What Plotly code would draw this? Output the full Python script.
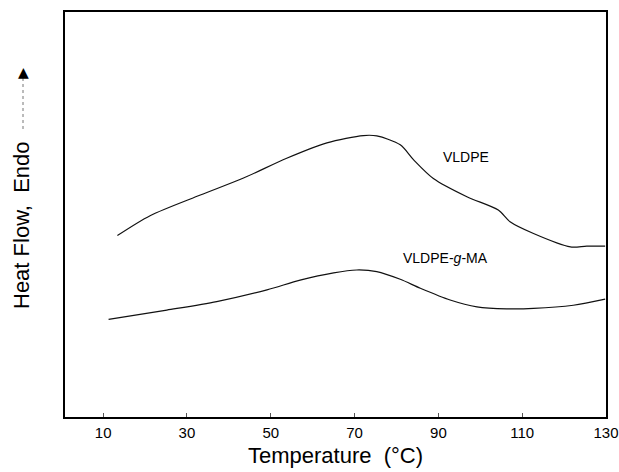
import plotly.graph_objects as go

# Temperature (°C) and heat-flow (arbitrary units)
vldpe_t = [13.4, 21.2, 33.2, 43.5, 53.8, 63.4, 72.1, 75.3, 80.9, 84.1, 88.8, 96.8, 104.3, 107.1, 112.7, 121.5, 125.4, 129.8]
vldpe_hf = [44.8, 49.7, 54.8, 59.0, 63.9, 67.7, 69.5, 69.4, 67.2, 63.5, 58.9, 54.4, 51.1, 48.2, 45.3, 42.0, 42.2, 42.2]

gma_t = [11.3, 25.2, 37.1, 49.1, 57.0, 65.0, 70.5, 75.3, 80.9, 85.7, 92.8, 99.2, 106.3, 112.7, 122.2, 129.8]
gma_hf = [24.1, 26.4, 28.5, 31.4, 33.8, 35.6, 36.3, 35.9, 34.0, 31.8, 28.9, 27.2, 26.7, 26.8, 27.6, 29.1]

x_ticks = [10, 30, 50, 70, 90, 110, 130]

FONT = "Liberation Sans, Arial, sans-serif"

fig = go.Figure()
fig.add_trace(go.Scatter(x=vldpe_t, y=vldpe_hf, mode="lines",
                         line=dict(color="#111111", width=1.2, shape="spline", smoothing=0.8),
                         showlegend=False, hoverinfo="skip"))
fig.add_trace(go.Scatter(x=gma_t, y=gma_hf, mode="lines",
                         line=dict(color="#111111", width=1.2, shape="spline", smoothing=0.8),
                         showlegend=False, hoverinfo="skip"))

fig.update_layout(
    width=619, height=472,
    margin=dict(l=65, r=13, t=12, b=55),
    paper_bgcolor="white", plot_bgcolor="white",
    font=dict(family=FONT, color="black"),
    xaxis=dict(range=[0.9, 130], tickvals=x_ticks, ticktext=[str(v) for v in x_ticks],
               ticks="inside", ticklen=4, tickcolor="#555555",
               showline=True, linecolor="black", linewidth=1.5, mirror=True,
               showgrid=False, zeroline=False, automargin=False,
               tickfont=dict(size=15, family=FONT, color="black"),
               ticklabelstandoff=1,
               title=dict(text="Temperature  (°C)", font=dict(size=22, family=FONT, color="black"),
                          standoff=8)),
    yaxis=dict(range=[0, 100], showticklabels=False, ticks="", automargin=False,
               showline=True, linecolor="black", linewidth=1.5, mirror=True,
               showgrid=False, zeroline=False),
    annotations=[
        dict(text="VLDPE", x=466, y=157, xref="paper", yref="paper", showarrow=False,
             xanchor="center", yanchor="middle",
             font=dict(size=14, family=FONT, color="black")),
        dict(text="VLDPE-<i>g</i>-MA", x=445, y=258, xref="paper", yref="paper", showarrow=False,
             xanchor="center", yanchor="middle",
             font=dict(size=14, family=FONT, color="black")),
        dict(text="Heat Flow,  Endo", x=21, y=225, xref="paper", yref="paper", showarrow=False,
             xanchor="center", yanchor="middle",
             textangle=-90, font=dict(size=22, family=FONT, color="black")),
        dict(text="▲", x=23, y=72, xref="paper", yref="paper", showarrow=False,
             xanchor="center", yanchor="middle",
             font=dict(size=14, family="DejaVu Sans", color="black")),
    ],
)

# convert pixel-placed annotation coordinates to paper coordinates
L, R, T, B = 65, 606, 12, 417
for a in fig.layout.annotations:
    a.x = (a.x - L) / (R - L)
    a.y = (B - a.y) / (B - T)

fig.add_shape(type="line", xref="paper", yref="paper",
              x0=(23 - L) / (R - L), x1=(23 - L) / (R - L),
              y0=(B - 78) / (B - T), y1=(B - 132) / (B - T),
              line=dict(color="#777777", width=1, dash="dot"))

fig.write_html("out.html")
